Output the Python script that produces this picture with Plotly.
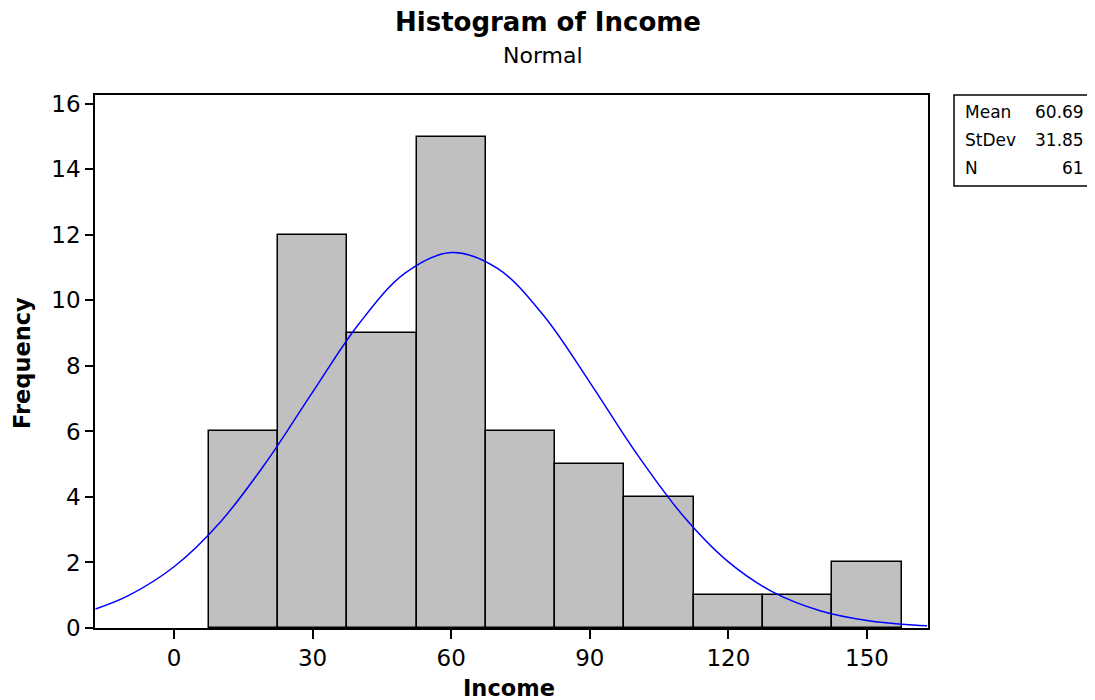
import plotly.graph_objects as go

# Histogram data (bin centers, width 15)
bin_centers = [15, 30, 45, 60, 75, 90, 105, 120, 135, 150]
counts = [6, 12, 9, 15, 6, 5, 4, 1, 1, 2]
bin_width = 15

# Fitted normal curve
curve_x = [-17, -10, 0, 10, 20, 30, 40, 50, 60, 70, 80, 90, 100, 110, 120, 130, 140, 150, 160, 163]
curve_y = [0.58, 0.98, 1.87, 3.23, 5.07, 7.20, 9.28, 10.83, 11.46, 10.98, 9.54, 7.50, 5.35, 3.46,
           2.02, 1.07, 0.52, 0.23, 0.09, 0.07]

stat_labels = ["Mean", "StDev", "N"]
stat_values = ["60.69", "31.85", "61"]

x_ticks = [0, 30, 60, 90, 120, 150]
y_ticks = [0, 2, 4, 6, 8, 10, 12, 14, 16]

FONT = "DejaVu Sans, sans-serif"

# page is rendered with an 8px body margin
OFF = 8
W, H = 1095 - OFF, 700 - OFF
PL, PR, PT, PB = 95, 928, 95, 628  # plot area in window pixels
PW, PH = PR - PL, PB - PT


def fx(p):
    return (p - PL) / PW


def fy(p):
    return 1 - (p - PT) / PH


fig = go.Figure()
fig.add_trace(go.Bar(
    x=bin_centers, y=counts, width=[bin_width] * len(counts),
    marker=dict(color="#C0C0C0", line=dict(color="black", width=1.5)),
    showlegend=False, hoverinfo="x+y"))
fig.add_trace(go.Scatter(
    x=curve_x, y=curve_y, mode="lines", line=dict(color="#0000FF", width=1.5, shape="spline"),
    showlegend=False))

fig.update_layout(
    width=W, height=H,
    margin=dict(l=PL - OFF, r=W - (PR - OFF), t=PT - OFF, b=H - (PB - OFF)),
    paper_bgcolor="white", plot_bgcolor="white",
    font=dict(family=FONT, color="black", size=20),
    bargap=0,
    xaxis=dict(range=[-17.1, 163.2], tickvals=x_ticks, ticks="outside", ticklen=9,
               tickwidth=1.5, tickcolor="black", showline=True, linecolor="black",
               linewidth=1.5, mirror=True, showgrid=False, zeroline=False,
               tickfont=dict(size=23)),
    yaxis=dict(range=[0, 16.27], tickvals=y_ticks, ticks="outside", ticklen=8,
               tickwidth=1.5, tickcolor="black", showline=True, linecolor="black",
               linewidth=1.5, mirror=True, showgrid=False, zeroline=False,
               tickfont=dict(size=23)),
)

fig.add_annotation(text="<b>Histogram of Income</b>", xref="paper", yref="paper",
                   x=fx(548), y=fy(22), xanchor="center", yanchor="middle",
                   showarrow=False, font=dict(size=26))
fig.add_annotation(text="Normal", xref="paper", yref="paper",
                   x=fx(543), y=fy(56), xanchor="center", yanchor="middle",
                   showarrow=False, font=dict(size=22))
fig.add_annotation(text="<b>Income</b>", xref="paper", yref="paper",
                   x=fx(509), y=fy(688), xanchor="center", yanchor="middle",
                   showarrow=False, font=dict(size=22.5))
fig.add_annotation(text="<b>Frequency</b>", xref="paper", yref="paper",
                   x=fx(22), y=fy(363), xanchor="center", yanchor="middle", textangle=-90,
                   showarrow=False, font=dict(size=22.5))

# Stats box
fig.add_shape(type="rect", xref="paper", yref="paper",
              x0=fx(954), x1=fx(1094), y0=fy(186), y1=fy(95),
              line=dict(color="black", width=1.5), fillcolor="white")
row_y = [112, 140, 168]
for lab, val, py in zip(stat_labels, stat_values, row_y):
    fig.add_annotation(text=lab, xref="paper", yref="paper", x=fx(963), y=fy(py),
                       xanchor="left", yanchor="middle", showarrow=False, font=dict(size=17))
    fig.add_annotation(text=val, xref="paper", yref="paper", x=fx(1086), y=fy(py),
                       xanchor="right", yanchor="middle", showarrow=False, font=dict(size=17))

fig.write_html("out.html")
